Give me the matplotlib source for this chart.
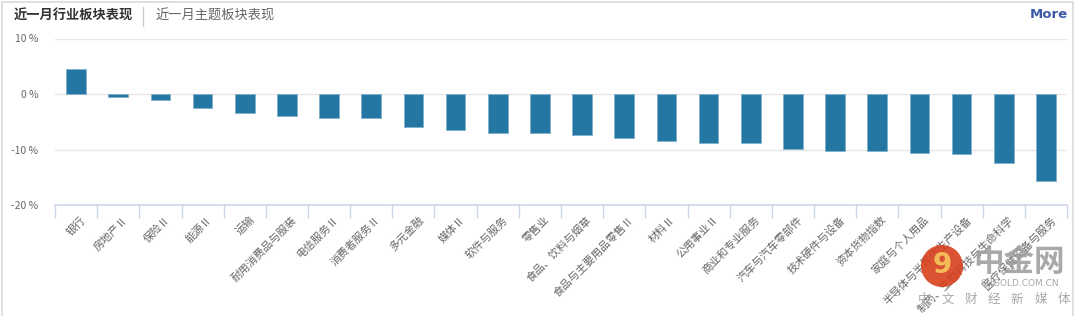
import matplotlib
matplotlib.use('Agg')
import matplotlib.pyplot as plt
from matplotlib.patches import Rectangle, Ellipse
import numpy as np

plt.rcParams['font.family'] = ['Noto Sans CJK SC', 'DejaVu Sans']

categories = ['银行', '房地产Ⅱ', '保险Ⅱ', '能源Ⅱ', '运输', '耐用消费品与服装', '电信服务Ⅱ',
              '消费者服务Ⅱ', '多元金融', '媒体Ⅱ', '软件与服务', '零售业', '食品、饮料与烟草',
              '食品与主要用品零售Ⅱ', '材料Ⅱ', '公用事业Ⅱ', '商业和专业服务', '汽车与汽车零部件',
              '技术硬件与设备', '资本货物指数', '家庭与个人用品', '半导体与半导体生产设备',
              '制药、生物科技与生命科学', '医疗保健设备与服务']
values = [4.5, -0.6, -1.1, -2.5, -3.5, -4.0, -4.35, -4.35, -6.0, -6.4, -7.05, -7.05, -7.4,
          -7.9, -8.4, -8.8, -8.9, -9.95, -10.3, -10.3, -10.6, -10.8, -12.5, -15.7]
yticks = [10, 0, -10, -20]
ytick_labels = ['10 %', '0 %', '-10 %', '-20 %']

W, H = 1080, 316
fig = plt.figure(figsize=(W / 100, H / 100), dpi=100)
fig.patch.set_facecolor('white')

# outer frame
fig.patches.append(Rectangle((2 / W, -0.1), 1071 / W, 1.1 - 2 / H, transform=fig.transFigure,
                             fill=False, edgecolor='#d9d9d9', lw=1.2))

ax = fig.add_axes([55 / W, 1 - 205 / H, 1012 / W, (205 - 38.5) / H])
x = np.arange(len(categories))
ax.bar(x, values, width=0.47, color='#2477a2', edgecolor='#7fb0cc', linewidth=0.6, zorder=3)
ax.set_xlim(-0.5, len(categories) - 0.5)
ax.set_ylim(-20, 10)
ax.set_yticks(yticks)
ax.set_yticklabels(ytick_labels, fontsize=7.5, color='#666666')
ax.tick_params(axis='y', length=0, pad=12)
for t in [10, 0, -10]:
    ax.axhline(t, color='#e6e6e6', lw=1, zorder=1)
for s in ['top', 'right', 'left']:
    ax.spines[s].set_visible(False)
ax.spines['bottom'].set_color('#ccd6eb')
ax.spines['bottom'].set_linewidth(1.2)
ax.set_xticks(np.arange(len(categories) + 1) - 0.5)
ax.set_xticklabels([])
ax.tick_params(axis='x', length=9, color='#ccd6eb', width=1)
for i, c in enumerate(categories):
    ax.text(i + 0.1, -21.7, c, rotation=45, ha='right', va='top', rotation_mode='anchor',
            fontsize=7.8, color='#666666', clip_on=False)

# header
fig.text(14 / W, 1 - 16 / H, '近一月行业板块表现', fontsize=9.5, fontweight='bold',
         color='#333333', va='center', ha='left')
fig.add_artist(plt.Line2D([143 / W, 143 / W], [1 - 7 / H, 1 - 26 / H], color='#cccccc', lw=1))
fig.text(155 / W, 1 - 16 / H, '近一月主题板块表现', fontsize=9.5, color='#666666',
         va='center', ha='left')
fig.text(1068 / W, 1 - 15 / H, 'More', fontsize=9.5, fontweight='bold', color='#3d5aa8',
         va='center', ha='right', family='DejaVu Sans')

# watermark
fig.patches.append(Ellipse((942 / W, 1 - 266 / H), 42 / W, 42 / H, transform=fig.transFigure,
                           facecolor='#d8401c', edgecolor='none', alpha=0.9))
fig.text(942 / W, 1 - 265 / H, '9', fontsize=20, fontweight='bold', color='#f6c25a',
         ha='center', va='center', alpha=0.95, family='DejaVu Sans')
fig.text(1019 / W, 1 - 262 / H, '中金网', fontsize=22, fontweight='bold', color='#9a9a9a',
         ha='center', va='center', alpha=0.85)
fig.text(1020 / W, 1 - 284 / H, 'CNGOLD.COM.CN', fontsize=6.5, color='#9a9a9a',
         ha='center', va='center', alpha=0.85, family='DejaVu Sans')
for k, ch in enumerate('中文财经新媒体'):
    fig.text((924 + k * 23.3) / W, 1 - 299 / H, ch, fontsize=9, color='#9a9a9a',
             ha='center', va='center', alpha=0.85)

fig.savefig('out.png', dpi=100, facecolor='white')
